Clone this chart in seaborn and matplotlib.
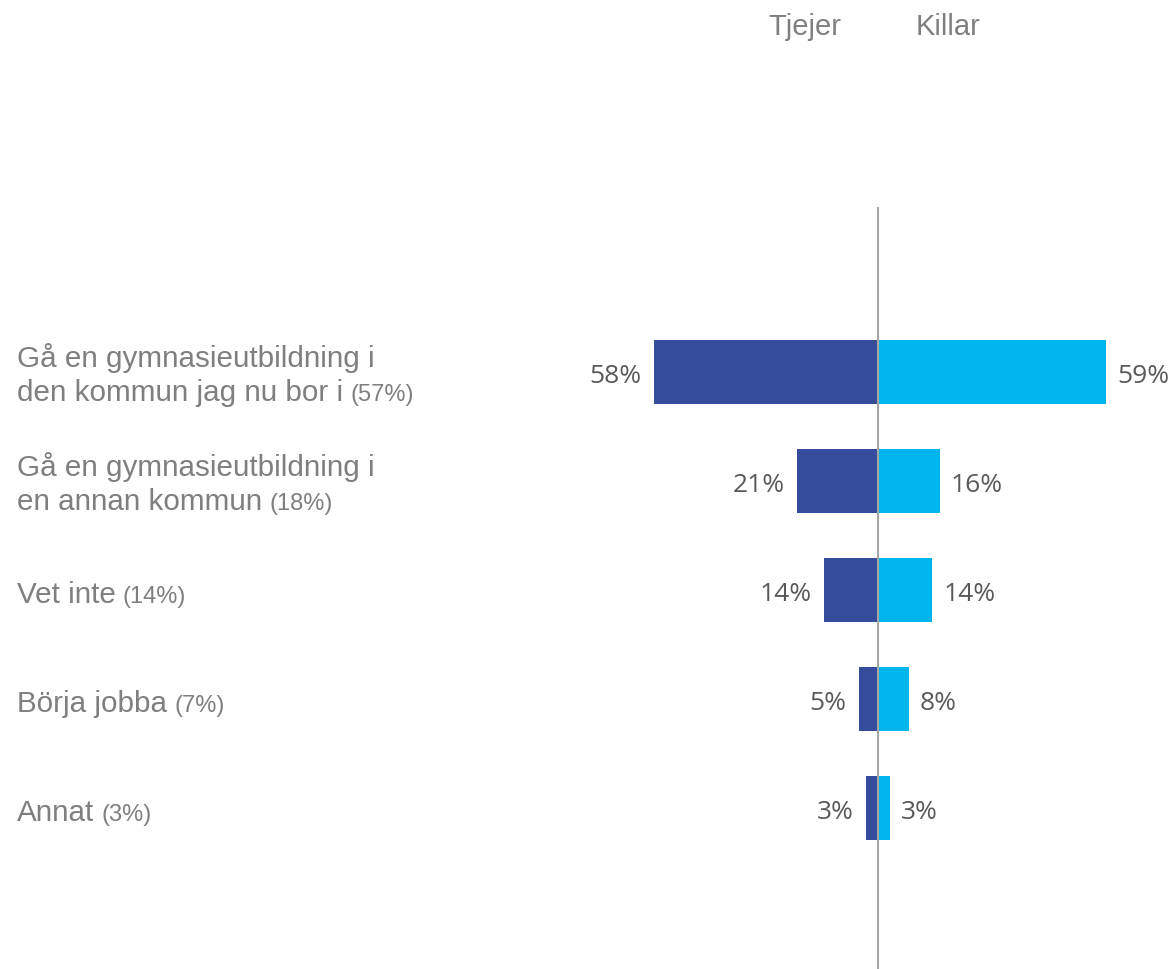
import matplotlib
matplotlib.use("Agg")
import matplotlib.pyplot as plt
import seaborn as sns
import pandas as pd

# data
categories = ["Gå en gymnasieutbildning i\nden kommun jag nu bor i",
              "Gå en gymnasieutbildning i\nen annan kommun",
              "Vet inte",
              "Börja jobba",
              "Annat"]
totals = [57, 18, 14, 7, 3]
tjejer = [58, 21, 14, 5, 3]
killar = [59, 16, 14, 8, 3]
groups = ["Tjejer", "Killar"]

dark_blue = "#354C9C"
light_blue = "#00B4EC"
label_grey = "#7F7F7F"
value_grey = "#595959"

sns.set_theme(style="white")
plt.rcParams["font.family"] = ["Liberation Sans", "DejaVu Sans"]

W, H = 1175, 969
fig = plt.figure(figsize=(W / 100, H / 100), dpi=100)
ax = fig.add_axes([0, 0, 1, (H - 207) / H])

# long table, girls drawn to the left
df = pd.DataFrame({
    "kategori": categories * 2,
    "grupp": [groups[0]] * len(categories) + [groups[1]] * len(categories),
    "andel": [-v for v in tjejer] + killar,
})

sns.barplot(data=df, y="kategori", x="andel", hue="grupp", orient="h",
            dodge=False, width=0.587, palette=[dark_blue, light_blue],
            saturation=1, linewidth=0, ax=ax, legend=False)

px_per_pct = 3.86
center_px = 878
ax.set_xlim(-center_px / px_per_pct, (W - center_px) / px_per_pct)
ax.set_ylim(5.477, -1.514)
ax.axvline(0, color="#A6A6A6", lw=1.5, zorder=5)
ax.axis("off")

# value labels
for i, (l, r) in enumerate(zip(tjejer, killar)):
    ax.annotate(f"{l}%", xy=(-l, i), xytext=(-9, -8), textcoords="offset points",
                ha="right", va="baseline", fontsize=19, color=value_grey,
                family=["Open Sans", "DejaVu Sans"])
    ax.annotate(f"{r}%", xy=(r, i), xytext=(8, -8), textcoords="offset points",
                ha="left", va="baseline", fontsize=19, color=value_grey,
                family=["Open Sans", "DejaVu Sans"])

# category labels with the total in smaller type
renderer = fig.canvas.get_renderer()
for i, (cat, tot) in enumerate(zip(categories, totals)):
    c_top = H - ax.transData.transform((0, i))[1]
    lines = cat.split("\n")
    if len(lines) == 1:
        bases = [c_top + 13]
    else:
        bases = [c_top - 5, c_top + 29]
    last = None
    for line, b in zip(lines, bases):
        last = fig.text(17 / W, 1 - b / H, line, ha="left", va="baseline",
                        fontsize=21.3, color=label_grey)
    bb = last.get_window_extent(renderer)
    fig.text((bb.x1 + 7) / W, 1 - bases[-1] / H, f"({tot}%)", ha="left",
             va="baseline", fontsize=17, color=label_grey)

# group headers
fig.text(805 / W, 1 - 35 / H, groups[0], ha="center", va="baseline",
         fontsize=21, color=label_grey)
fig.text(948 / W, 1 - 35 / H, groups[1], ha="center", va="baseline",
         fontsize=21, color=label_grey)

fig.savefig("out.png", dpi=100)
